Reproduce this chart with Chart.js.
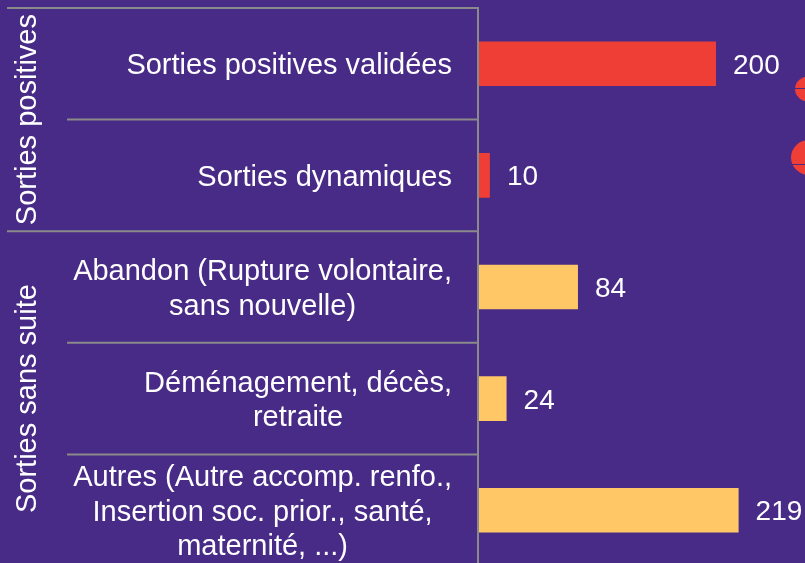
<!DOCTYPE html>
<html>
<head>
<meta charset="utf-8">
<script src="https://cdn.jsdelivr.net/npm/chart.js@4/dist/chart.umd.min.js"></script>
<style>
  html, body { margin: 0; padding: 0; background: #482a87; overflow: hidden; }
  #wrap { position: relative; width: 805px; height: 563px; overflow: hidden; }
  canvas { display: block; }
  .deco { position: absolute; background: #ee3e36; border-radius: 50%; }
  .deco-line { position: absolute; height: 1px; background: #482a87; }
</style>
</head>
<body>
<div id="wrap">
  <canvas id="c" width="805" height="575"></canvas>
  <div class="deco" style="left:795px; top:76px; width:30px; height:26px;"></div>
  <div class="deco-line" style="left:795px; top:88px; width:12px;"></div>
  <div class="deco" style="left:791px; top:140px; width:36px; height:35px;"></div>
  <div class="deco-line" style="left:791px; top:164px; width:16px;"></div>
</div>
<script>
// ---- data ----
const categories = [
  ['Sorties positives validées'],
  ['Sorties dynamiques'],
  ['Abandon (Rupture volontaire,', 'sans nouvelle)'],
  ['Déménagement, décès,', 'retraite'],
  ['Autres (Autre accomp. renfo.,', 'Insertion soc. prior., santé,', 'maternité, ...)']
];
const groupNames = ['Sorties positives', 'Sorties sans suite'];
const groupOf = [0, 0, 1, 1, 1];
const values = [200, 10, 84, 24, 219];
const groupColors = ['#ee3e36', '#ffc766'];

const FONT = '"Liberation Sans", Arial, sans-serif';
const GRID = '#8a8a8a';

const customPlugin = {
  id: 'custom',
  afterDraw(chart) {
    const ctx = chart.ctx;
    const ys = chart.scales.y;
    const xs = chart.scales.x;
    const axisX = chart.chartArea.left;
    const n = categories.length;
    const centers = categories.map((_, i) => ys.getPixelForValue(i));
    const half = n > 1 ? (centers[1] - centers[0]) / 2 : 50;
    ctx.save();
    // separators
    ctx.strokeStyle = GRID;
    ctx.lineWidth = 2;
    const bounds = [];
    for (let i = 0; i <= n; i++) {
      const y = i < n ? centers[i] - half : centers[n - 1] + half;
      bounds.push(y);
      const groupBreak = (i === 0 || i === n || groupOf[i] !== groupOf[i - 1]);
      const x0 = groupBreak ? 7 : 67;
      ctx.beginPath();
      ctx.moveTo(x0, y);
      ctx.lineTo(axisX, y);
      ctx.stroke();
    }
    ctx.beginPath();
    ctx.moveTo(axisX, bounds[0] - 1);
    ctx.lineTo(axisX, bounds[n] + 1);
    ctx.stroke();

    // category labels
    ctx.fillStyle = '#ffffff';
    ctx.font = '29px ' + FONT;
    ctx.textBaseline = 'alphabetic';
    ctx.textAlign = 'center';
    const lh = 34.8;
    categories.forEach((lines, i) => {
      const maxW = Math.max(...lines.map(l => ctx.measureText(l).width));
      const cx = axisX - 26 - maxW / 2;
      lines.forEach((l, j) => {
        const y = centers[i] + 10.4 + (j - (lines.length - 1) / 2) * lh;
        ctx.fillText(l, cx, y);
      });
    });

    // group labels (rotated)
    groupNames.forEach((g, gi) => {
      const idx = groupOf.map((v, k) => v === gi ? k : -1).filter(k => k >= 0);
      const top = centers[idx[0]] - half;
      const bot = centers[idx[idx.length - 1]] + half;
      ctx.save();
      ctx.translate(35.5, (top + bot) / 2);
      ctx.rotate(-Math.PI / 2);
      ctx.textAlign = 'center';
      ctx.textBaseline = 'alphabetic';
      ctx.fillText(g, 0, 0);
      ctx.restore();
    });

    // value labels
    ctx.font = '28px ' + FONT;
    ctx.textAlign = 'left';
    values.forEach((v, i) => {
      ctx.fillText(String(v), xs.getPixelForValue(v) + 17, centers[i] + 10);
    });
    ctx.restore();
  }
};

new Chart(document.getElementById('c'), {
  type: 'bar',
  data: {
    labels: categories,
    datasets: [{
      data: values,
      backgroundColor: values.map((_, i) => groupColors[groupOf[i]]),
      borderWidth: 0,
      barPercentage: 0.4,
      categoryPercentage: 1
    }]
  },
  options: {
    indexAxis: 'y',
    responsive: false,
    maintainAspectRatio: false,
    animation: false,
    layout: { padding: { left: 478, right: 29.5, top: 8, bottom: 9 } },
    scales: {
      x: { display: false, min: 0, max: 250 },
      y: { display: false, offset: true }
    },
    plugins: { legend: { display: false }, tooltip: { enabled: false } }
  },
  plugins: [customPlugin]
});
</script>
</body>
</html>
